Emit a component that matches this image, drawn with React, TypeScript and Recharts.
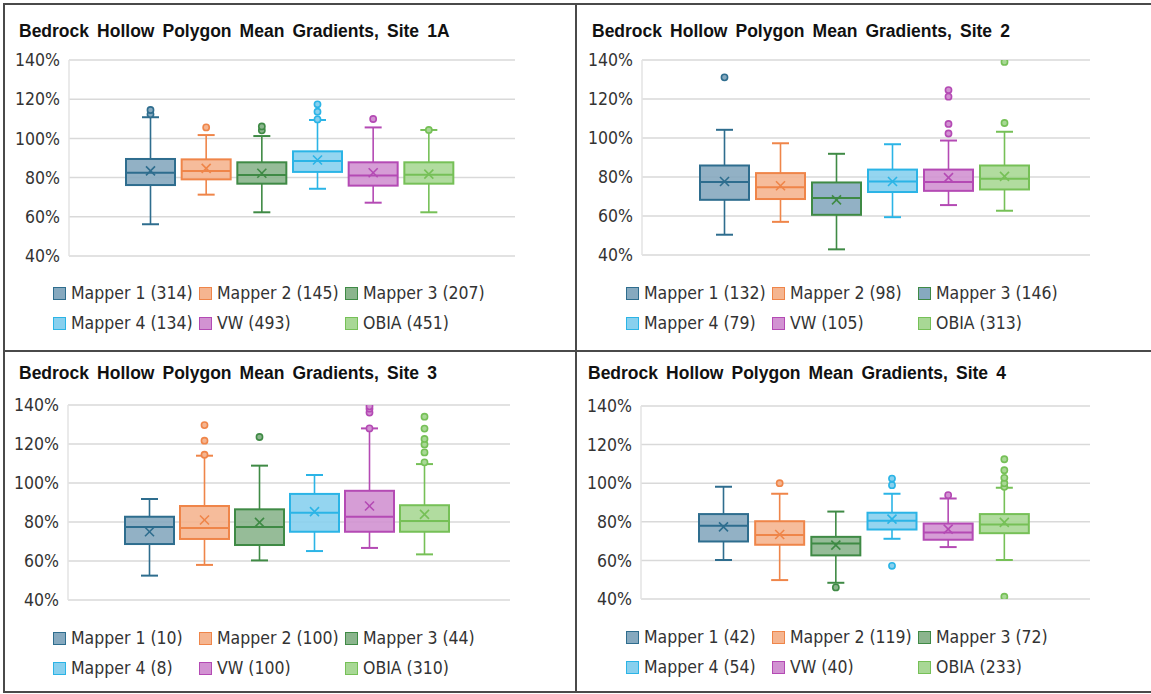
import { ComposedChart, Bar, XAxis, YAxis, CartesianGrid } from 'recharts';

const SERIES = ['Mapper 1', 'Mapper 2', 'Mapper 3', 'Mapper 4', 'VW', 'OBIA'];
const STROKES = ['#2e6d8e', '#ef8549', '#3f8a45', '#2bb4e6', '#b44ab4', '#76c057'];
const FILLS = ['#86a9bf', '#f5b590', '#8bb58d', '#88d0ee', '#d292d2', '#a8d895'];
const Y_TICKS = [40, 60, 80, 100, 120, 140];

// Site 1A
const site1Counts = [314, 145, 207, 134, 493, 451];
const site1Min = [56.2, 71.3, 62.3, 74.3, 67.2, 62.3];
const site1Q1 = [76.2, 79.1, 76.9, 82.9, 75.9, 76.9];
const site1Median = [82.5, 83.4, 81.3, 88.5, 81.1, 81.5];
const site1Q3 = [89.5, 89.3, 87.8, 93.4, 87.8, 87.8];
const site1Max = [110.8, 101.7, 101.2, 109.4, 105.6, 104.3];
const site1Mean = [83.4, 84.7, 82.2, 89, 82.5, 81.8];
const site1Outliers = [[112.3, 114.5], [105.6], [104.1, 106.1], [109.7, 113.6, 117.4], [109.9], [104.3]];

// Site 2
const site2Counts = [132, 98, 146, 79, 105, 313];
const site2Min = [50.4, 57, 42.9, 59.4, 65.6, 62.7];
const site2Q1 = [68.3, 68.7, 60.6, 72.3, 72.9, 73.6];
const site2Median = [77.4, 74.8, 69.2, 77.7, 77.4, 79.1];
const site2Q3 = [85.9, 82, 77.2, 83.8, 83.8, 85.9];
const site2Max = [104.2, 97.3, 91.9, 96.8, 98.7, 103.2];
const site2Mean = [77.7, 75.5, 68.3, 77.7, 79.7, 80.3];
const site2Outliers = [[131.1], [], [], [], [102.3, 107.2, 121.2, 124.6], [107.7, 139]];

// Site 3
const site3Counts = [10, 100, 44, 8, 100, 310];
const site3Min = [52.5, 58, 60.3, 65.1, 66.7, 63.4];
const site3Q1 = [68.7, 71.3, 68.2, 75, 75, 75];
const site3Median = [77.4, 76.9, 77.4, 84.8, 82.7, 80.5];
const site3Q3 = [82.7, 88.2, 86.5, 94.4, 96, 88.6];
const site3Max = [91.8, 114, 108.9, 104.1, 128, 109.7];
const site3Mean = [75, 81, 79.8, 85.3, 88.2, 83.9];
const site3Outliers = [[], [114.5, 121.7, 129.7], [123.6], [], [128, 136.1, 138.1, 139.3], [110.6, 115.7, 119.8, 122.6, 127.9, 134]];

// Site 4
const site4Counts = [42, 119, 72, 54, 40, 233];
const site4Min = [60.2, 49.8, 48.4, 71.2, 66.9, 60.2];
const site4Q1 = [69.8, 68.1, 62.6, 76, 70.7, 74.1];
const site4Median = [77.9, 73.1, 68.8, 80.5, 74.5, 78.6];
const site4Q3 = [84, 80.3, 72.2, 84.7, 79.1, 84];
const site4Max = [98.1, 94.5, 85.3, 94.5, 92.1, 97.6];
const site4Mean = [77.4, 73.4, 67.9, 81.4, 76.2, 79.7];
const site4Outliers = [[], [100], [46], [57.2, 99, 102.4], [93.8], [41.2, 98.1, 100, 102.8, 106.7, 112.4]];

interface SiteData {
  counts: number[];
  min: number[];
  q1: number[];
  median: number[];
  q3: number[];
  max: number[];
  mean: number[];
  outliers: number[][];
}

interface BoxRow {
  name: string;
  min: number;
  q1: number;
  median: number;
  q3: number;
  max: number;
  mean: number;
  outliers: number[];
}

const TICK_FONT = "'DejaVu Sans Condensed', 'Noto Sans', sans-serif";
const TITLE_FONT = "'Liberation Sans', Arial, sans-serif";

function buildRows(s: SiteData): BoxRow[] {
  return SERIES.map((name, i) => ({
    name,
    min: s.min[i],
    q1: s.q1[i],
    median: s.median[i],
    q3: s.q3[i],
    max: s.max[i],
    mean: s.mean[i],
    outliers: s.outliers[i],
  }));
}

function BoxShape(props: any) {
  const { x, y, width, height, payload, index, fills, strokes } = props;
  const d = payload as BoxRow;
  const top = Math.min(y, y + height);
  const k = Math.abs(height) / (d.max - d.min || 1);
  const py = (v: number) => top + (d.max - v) * k;
  const cx = x + width / 2;
  const stroke = strokes[index];
  const fill = fills[index];
  const cap = 8.5;
  const m = 4.5;
  return (
    <g>
      <line x1={cx} x2={cx} y1={py(d.max)} y2={py(d.q3)} stroke={stroke} strokeWidth={1.6} />
      <line x1={cx} x2={cx} y1={py(d.q1)} y2={py(d.min)} stroke={stroke} strokeWidth={1.6} />
      <line x1={cx - cap} x2={cx + cap} y1={py(d.max)} y2={py(d.max)} stroke={stroke} strokeWidth={2} />
      <line x1={cx - cap} x2={cx + cap} y1={py(d.min)} y2={py(d.min)} stroke={stroke} strokeWidth={2} />
      <rect
        x={x + 1}
        y={py(d.q3)}
        width={width - 2}
        height={py(d.q1) - py(d.q3)}
        fill={fill}
        fillOpacity={0.9}
        stroke={stroke}
        strokeWidth={2}
      />
      <line x1={x + 1} x2={x + width - 1} y1={py(d.median)} y2={py(d.median)} stroke={stroke} strokeWidth={2} />
      <line x1={cx - m} x2={cx + m} y1={py(d.mean) - m} y2={py(d.mean) + m} stroke={stroke} strokeWidth={1.6} />
      <line x1={cx - m} x2={cx + m} y1={py(d.mean) + m} y2={py(d.mean) - m} stroke={stroke} strokeWidth={1.6} />
      {d.outliers.map((v, j) => (
        <circle key={j} cx={cx} cy={py(v)} r={3.1} fill={fill} stroke={stroke} strokeWidth={1.6} />
      ))}
    </g>
  );
}

interface PanelProps {
  title: string;
  site: SiteData;
  fills: string[];
  strokes: string[];
  box: { x: number; y: number; w: number; h: number };
  plot: { l: number; r: number; t: number; b: number };
  titleAt: { x: number; y: number };
  legendAt: { x: number; y: number };
}

function Panel({ title, site, fills, strokes, box, plot, titleAt, legendAt }: PanelProps) {
  const rows = buildRows(site);
  return (
    <>
      <div
        style={{
          position: 'absolute',
          left: titleAt.x,
          top: titleAt.y - 10,
          height: 20,
          lineHeight: '20px',
          fontFamily: TITLE_FONT,
          fontWeight: 700,
          fontSize: 17.5,
          wordSpacing: 3.2,
          color: '#111',
          whiteSpace: 'nowrap',
        }}
      >
        {title}
      </div>
      <div style={{ position: 'absolute', left: box.x, top: box.y }}>
        <ComposedChart
          width={box.w}
          height={box.h}
          data={rows}
          margin={{
            top: plot.t - box.y,
            bottom: box.y + box.h - plot.b,
            left: 0,
            right: box.x + box.w - plot.r,
          }}
        >
          <CartesianGrid horizontal vertical={false} stroke="#d9d9d9" strokeWidth={1.5} />
          <XAxis dataKey="name" hide padding={{ left: 54, right: 58 }} />
          <YAxis
            width={plot.l - box.x}
            domain={[40, 140]}
            ticks={Y_TICKS}
            interval={0}
            allowDataOverflow
            tickFormatter={(v: number) => `${v}%`}
            tickLine={false}
            tickSize={7}
            tickMargin={2}
            axisLine={{ stroke: '#e3e3e3', strokeWidth: 1.5 }}
            tick={{ fontSize: 17.5, fill: '#333', fontFamily: TICK_FONT }}
          />
          <Bar
            dataKey={(d: BoxRow) => [d.min, d.max]}
            barSize={51}
            isAnimationActive={false}
            shape={(p: any) => <BoxShape {...p} fills={fills} strokes={strokes} />}
          />
        </ComposedChart>
      </div>
      {SERIES.map((name, i) => (
        <div
          key={name}
          style={{
            position: 'absolute',
            left: legendAt.x + (i % 3) * 146,
            top: legendAt.y + Math.floor(i / 3) * 30 - 12,
            height: 24,
            display: 'flex',
            alignItems: 'center',
            fontFamily: TICK_FONT,
            fontSize: 17.5,
            color: '#333',
            whiteSpace: 'nowrap',
          }}
        >
          <span
            style={{
              display: 'inline-block',
              width: 11,
              height: 11,
              background: fills[i],
              border: `1.5px solid ${strokes[i]}`,
              marginRight: 5,
            }}
          />
          {`${name} (${site.counts[i]})`}
        </div>
      ))}
    </>
  );
}

const site1: SiteData = {
  counts: site1Counts, min: site1Min, q1: site1Q1, median: site1Median,
  q3: site1Q3, max: site1Max, mean: site1Mean, outliers: site1Outliers,
};
const site2: SiteData = {
  counts: site2Counts, min: site2Min, q1: site2Q1, median: site2Median,
  q3: site2Q3, max: site2Max, mean: site2Mean, outliers: site2Outliers,
};
const site3: SiteData = {
  counts: site3Counts, min: site3Min, q1: site3Q1, median: site3Median,
  q3: site3Q3, max: site3Max, mean: site3Mean, outliers: site3Outliers,
};
const site4: SiteData = {
  counts: site4Counts, min: site4Min, q1: site4Q1, median: site4Median,
  q3: site4Q3, max: site4Max, mean: site4Mean, outliers: site4Outliers,
};

// site 2 draws Mapper 3 with Mapper 1's fill
const site2Fills = [FILLS[0], FILLS[1], FILLS[0], FILLS[3], FILLS[4], FILLS[5]];

const frame: React.CSSProperties = { position: 'absolute', background: '#4a4a4a' };

export default function App() {
  return (
    <div
      style={{
        position: 'absolute',
        left: 0,
        top: 0,
        width: 1151,
        height: 694,
        background: '#fff',
        overflow: 'hidden',
      }}
    >
      <div style={{ ...frame, left: 3, top: 3, width: 1148, height: 2 }} />
      <div style={{ ...frame, left: 3, top: 3, width: 2, height: 690 }} />
      <div style={{ ...frame, left: 575, top: 3, width: 2, height: 690 }} />
      <div style={{ ...frame, left: 3, top: 350, width: 1148, height: 2 }} />
      <div style={{ ...frame, left: 3, top: 691, width: 1148, height: 2 }} />

      <Panel
        title="Bedrock Hollow Polygon Mean Gradients, Site 1A"
        site={site1}
        fills={FILLS}
        strokes={STROKES}
        box={{ x: 5, y: 5, w: 570, h: 345 }}
        plot={{ l: 69, r: 515, t: 60, b: 256 }}
        titleAt={{ x: 19, y: 31 }}
        legendAt={{ x: 53, y: 293 }}
      />
      <Panel
        title="Bedrock Hollow Polygon Mean Gradients, Site 2"
        site={site2}
        fills={site2Fills}
        strokes={STROKES}
        box={{ x: 577, y: 5, w: 574, h: 345 }}
        plot={{ l: 642, r: 1090, t: 60, b: 255 }}
        titleAt={{ x: 592, y: 31 }}
        legendAt={{ x: 626, y: 293 }}
      />
      <Panel
        title="Bedrock Hollow Polygon Mean Gradients, Site 3"
        site={site3}
        fills={FILLS}
        strokes={STROKES}
        box={{ x: 5, y: 352, w: 570, h: 339 }}
        plot={{ l: 68, r: 510, t: 405, b: 600 }}
        titleAt={{ x: 19, y: 373 }}
        legendAt={{ x: 53, y: 638 }}
      />
      <Panel
        title="Bedrock Hollow Polygon Mean Gradients, Site 4"
        site={site4}
        fills={FILLS}
        strokes={STROKES}
        box={{ x: 577, y: 352, w: 574, h: 339 }}
        plot={{ l: 641, r: 1090, t: 406, b: 599 }}
        titleAt={{ x: 588, y: 373 }}
        legendAt={{ x: 626, y: 637 }}
      />
    </div>
  );
}
